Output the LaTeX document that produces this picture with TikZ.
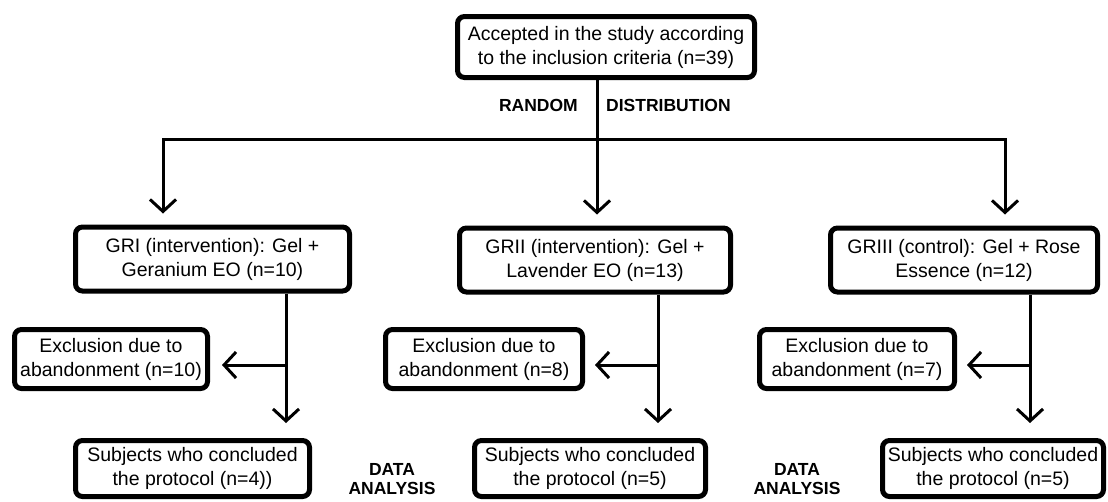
\documentclass[tikz,border=0pt]{standalone}
\usepackage{fontspec}
\setmainfont{Liberation Sans}
\usetikzlibrary{arrows.meta}
\begin{document}
\begin{tikzpicture}[x=1pt,y=-1pt,
  box/.style={draw, line width=5pt, rounded corners=7pt, align=center, inner sep=0pt,
              font=\fontsize{19.5}{24}\selectfont},
  conn/.style={line width=3pt},
  arr/.style={conn, -{Straight Barb[length=12pt,width=26pt]}},
  lab/.style={font=\fontsize{17.5}{19}\selectfont\bfseries, align=center, inner sep=0pt}]
\useasboundingbox (0,0) rectangle (1108,501);
% boxes
\node[box, minimum width=297pt, minimum height=61pt] (top) at (606,47)
  {Accepted in the study according\\to the inclusion criteria (n=39)};
\node[box, minimum width=274pt, minimum height=64pt] (g1) at (212.5,259)
  {GRI (intervention): Gel +\\Geranium EO (n=10)};
\node[box, minimum width=271pt, minimum height=64pt] (g2) at (595,260)
  {GRII (intervention): Gel +\\Lavender EO (n=13)};
\node[box, minimum width=267pt, minimum height=64pt] (g3) at (964,260)
  {GRIII (control): Gel + Rose\\Essence (n=12)};
\node[box, minimum width=193pt, minimum height=59pt] (e1) at (111,359)
  {Exclusion due to\\abandonment (n=10)};
\node[box, minimum width=197pt, minimum height=59pt] (e2) at (484,359)
  {Exclusion due to\\abandonment (n=8)};
\node[box, minimum width=195pt, minimum height=59pt] (e3) at (857,359)
  {Exclusion due to\\abandonment (n=7)};
\node[box, minimum width=234pt, minimum height=56pt] (s1) at (192.5,468.5)
  {Subjects who concluded\\the protocol (n=4))};
\node[box, minimum width=231pt, minimum height=56pt] (s2) at (590,468.5)
  {Subjects who concluded\\the protocol (n=5)};
\node[box, minimum width=221pt, minimum height=56pt] (s3) at (993,468.5)
  {Subjects who concluded\\the protocol (n=5)};
% labels
\node[lab, anchor=east] (rnd) at (578,105) {RANDOM};
\node[lab, anchor=west] (dst) at (606,105) {DISTRIBUTION};
\node[lab] (da1) at (392,479) {DATA\\ANALYSIS};
\node[lab] (da2) at (797,479) {DATA\\ANALYSIS};
% distribution connectors
\coordinate (split) at (597,139);
\coordinate (cL) at (163,139);
\coordinate (cR) at (1005,139);
\draw[conn] (top.south -| split) -- (split);
\draw[conn, line cap=rect] (cL) -- (cR);
\draw[arr, shorten >=11pt] (cL) -- (cL |- g1.north);
\draw[arr, shorten >=11pt] (split) -- (split |- g2.north);
\draw[arr, shorten >=11pt] (cR) -- (cR |- g3.north);
% group branches
\coordinate (b1) at (286,365);
\coordinate (b2) at (658,365);
\coordinate (b3) at (1030,365);
\draw[arr, shorten >=15pt] (g1.south -| b1) -- (s1.north -| b1);
\draw[arr, shorten >=15pt] (g2.south -| b2) -- (s2.north -| b2);
\draw[arr, shorten >=15pt] (g3.south -| b3) -- (s3.north -| b3);
\draw[arr, shorten >=12pt] (b1) -- (e1.east |- b1);
\draw[arr, shorten >=10pt] (b2) -- (e2.east |- b2);
\draw[arr, shorten >=10pt] (b3) -- (e3.east |- b3);
\end{tikzpicture}
\end{document}
